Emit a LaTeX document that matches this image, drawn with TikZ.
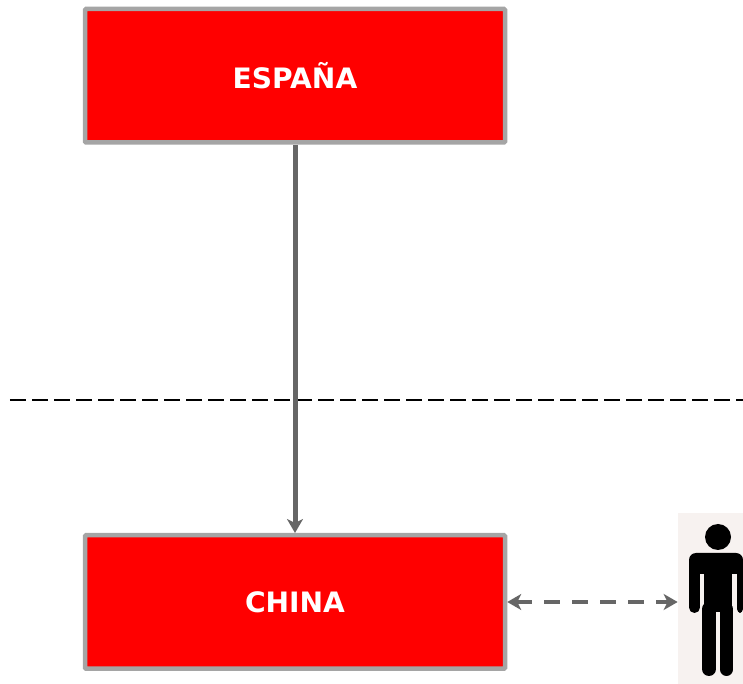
\documentclass[tikz,border=0pt]{standalone}
\usepackage{fontspec}
\setmainfont{DejaVu Sans}
\usetikzlibrary{arrows.meta}
\definecolor{boxgrey}{HTML}{A5A5A5}
\definecolor{linkgrey}{HTML}{666666}
\definecolor{photobg}{HTML}{F7F2F0}
\tikzset{
	>={Stealth[length=0.28cm,width=0.32cm,inset=0.08cm]},
	country/.style={draw=boxgrey, fill=red, line width=0.09cm, rounded corners=0.02cm, minimum width=8.4cm, minimum height=2.67cm, text=white, font=\bfseries\fontsize{16pt}{18pt}\selectfont},
	link/.style={color=linkgrey, line width=0.1cm, ->},
	duallink/.style={color=linkgrey, line width=0.08cm, dash pattern=on 0.32cm off 0.24cm, <->}
}
\begin{document}
\begin{tikzpicture}
			\useasboundingbox (0,0) rectangle (14.86,13.68);
			\node[country] (espana) at (5.9,12.165) {ESPAÑA};
			\node[country] (china) at (5.9,1.64) {CHINA};
			\node[fill=photobg, inner sep=0, minimum width=1.3cm, minimum height=3.42cm] (person) at (14.21,1.71) {};
			\coordinate (borderL) at (0.2,5.68);
			\coordinate (borderR) at (14.86,5.68);
			\draw[line width=0.04cm, dash pattern=on 0.32cm off 0.12cm] (borderL) -- (borderR);
			\draw[link] (espana) -- (china);
			\draw[duallink] (china.east) -- (china.east -| person.west);
			\fill (14.36,2.94) circle (0.26);
			\fill (13.78,2.2) [rounded corners=0.14cm] -- (13.78,2.62) -- (14.86,2.62) [sharp corners] -- (14.86,2.2) -- cycle;
			\draw[line width=0.22cm, line cap=round] (13.89,2.4) -- (13.89,1.53);
			\fill[rounded corners=0.08cm] (14.74,2.3) -- (14.74,1.42) -- (14.86,1.42) -- (14.86,2.3) -- cycle;
			\fill (14.08,2.3) rectangle (14.64,1.44);
			\draw[line width=0.28cm, line cap=round] (14.18,1.5) -- (14.18,0.3);
			\draw[line width=0.26cm, line cap=round] (14.53,1.5) -- (14.53,0.29);
		\end{tikzpicture}
\end{document}
